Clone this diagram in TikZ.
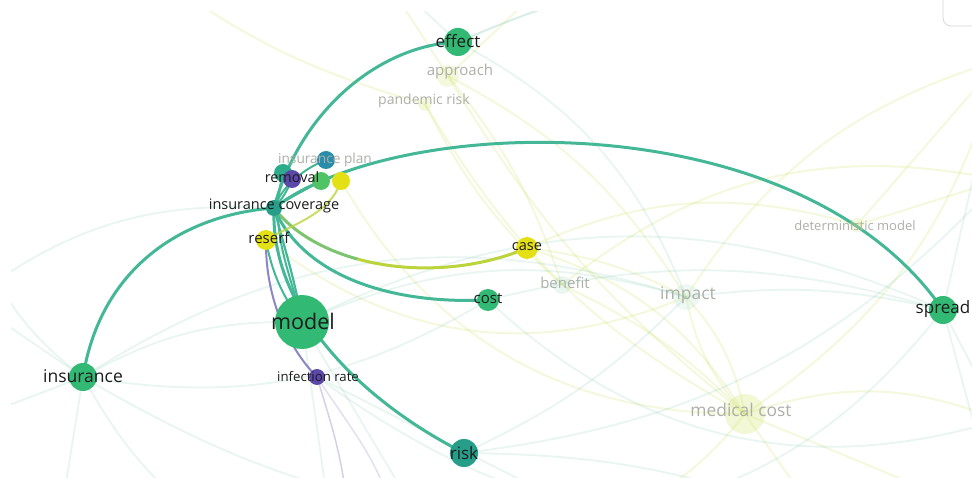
\documentclass[tikz,border=0pt]{standalone}
\usepackage{fontspec}
\setmainfont{Open Sans}
\pgfdeclarelayer{bg}
\pgfdeclarelayer{edges}
\pgfsetlayers{bg,edges,main}
\definecolor{cgreen}{RGB}{50,185,115}
\definecolor{cteal}{RGB}{38,158,138}
\definecolor{cteal2}{RGB}{45,172,140}
\definecolor{cblue}{RGB}{40,140,170}
\definecolor{cpurple}{RGB}{92,72,170}
\definecolor{cyellow}{RGB}{228,224,22}
\definecolor{cgreen2}{RGB}{80,196,100}
\definecolor{edgec}{RGB}{68,184,150}
\definecolor{edgey}{RGB}{188,212,60}
\definecolor{edgem}{RGB}{125,196,110}
\definecolor{edgep}{RGB}{112,104,182}
\definecolor{labc}{RGB}{28,28,28}
\definecolor{fadec}{RGB}{172,176,168}
\definecolor{fgreen}{RGB}{120,200,170}
\definecolor{fyel}{RGB}{215,230,120}
\definecolor{frame}{RGB}{215,215,215}
\tikzset{
  kw/.style={circle, inner sep=0pt, minimum size=#1},
  lab/.style={inner sep=0pt, text=labc, font=\fontsize{#1}{#1}\selectfont},
  flab/.style={inner sep=0pt, text=fadec, font=\fontsize{#1}{#1}\selectfont},
  sedge/.style={draw=edgec, line width=3pt},
  fe/.style={draw=fgreen, line width=1.8pt, opacity=0.17},
  fy/.style={draw=fyel, line width=2pt, opacity=0.25},
}
\begin{document}
\begin{tikzpicture}[x=1pt,y=-1pt]
\useasboundingbox (0,0) rectangle (972,478);
\begin{pgfonlayer}{bg}
\fill[white] (0,0) rectangle (972,478);
\end{pgfonlayer}
% top-right frame fragment
\draw[frame, line width=0.8pt, rounded corners=8pt] (943,-12) rectangle (1000,26);

% off-canvas coordinates
\coordinate (oa) at (1000,60);
\coordinate (ob) at (1000,180);
\coordinate (oc) at (1000,420);
\coordinate (od) at (1000,520);
\coordinate (oe) at (820,520);
\coordinate (of) at (600,520);
\coordinate (og) at (420,520);
\coordinate (oh) at (330,520);
\coordinate (oi) at (200,520);
\coordinate (oj) at (60,520);
\coordinate (ok) at (-30,300);
\coordinate (ol) at (-30,420);
\coordinate (om) at (-30,200);
\coordinate (on) at (150,-30);
\coordinate (oo) at (380,-30);
\coordinate (op) at (560,-30);
\coordinate (oq) at (760,-30);
\coordinate (or) at (950,-30);
\coordinate (pb1) at (345,490);
\coordinate (pb2) at (385,490);

% faded keyword blobs
\node[kw=22, fill=fyel, opacity=0.25] (approachn) at (448,76) {};
\node[kw=14, fill=fyel, opacity=0.25] (pandemicn) at (425,104) {};
\node[kw=18, fill=fgreen, opacity=0.15] (benefitn) at (562,285) {};
\node[kw=26, fill=fgreen, opacity=0.12] (impactn) at (686,297) {};
\node[kw=40, fill=fyel, opacity=0.3] (medcostn) at (745,414) {};
\node[kw=14, fill=fyel, opacity=0.25] (determn) at (857,225) {};

% keyword circles
\node[kw=28, fill=cgreen] (effect) at (458,42) {};
\node[kw=18, fill=cblue] (ip) at (326,160) {};
\node[kw=18, fill=cteal2] (rem2) at (283,173) {};
\node[kw=18, fill=cpurple] (removal) at (292,179) {};
\node[kw=18, fill=cgreen2] (gnode) at (321,181) {};
\node[kw=18, fill=cyellow] (ynode) at (341,181) {};
\node[kw=16, fill=cteal] (ic) at (274,208) {};
\node[kw=20, fill=cyellow] (reserf) at (266,240) {};
\node[kw=22, fill=cyellow] (case) at (527,248) {};
\node[kw=22, fill=cgreen] (cost) at (488,300) {};
\node[kw=54, fill=cgreen] (model) at (302,322) {};
\node[kw=28, fill=cgreen] (insurance) at (83,377) {};
\node[kw=16, fill=cpurple] (infrate) at (317,377) {};
\node[kw=28, fill=cteal] (risk) at (464,453) {};
\node[kw=28, fill=cgreen] (spread) at (943,310) {};

% labels
\node[flab=15] (approachl) at (460,72) {approach};
\node[flab=14] (pandemicl) at (424,101) {pandemic risk};
\node[flab=13.7] (ipl) at (325,160) {insurance plan};
\node[flab=15] (benefitl) at (565,283) {benefit};
\node[flab=17.5] (impactl) at (688,295) {impact};
\node[flab=17.4] (medcostl) at (741,410) {medical cost};
\node[flab=13] (determl) at (855,226) {deterministic model};
\node[lab=17] (effectl) at (458,41) {effect};
\node[lab=21.5] (modell) at (303,321) {model};
\node[lab=17.5] (insurancel) at (83,376) {insurance};
\node[lab=17] (spreadl) at (943,309) {spread};
\node[lab=17] (riskl) at (464,453) {risk};
\node[lab=15] (costl) at (488,299) {cost};
\node[lab=14.5] (casel) at (527,247) {case};
\node[lab=14.4] (removall) at (292,177) {removal};
\node[lab=14.5] (icl) at (274,206) {insurance coverage};
\node[lab=15] (reserfl) at (269,238) {reserf};
\node[lab=13.2] (infratel) at (318,377) {infection rate};

\begin{pgfonlayer}{edges}
\begin{scope}
\clip (11,12) rectangle (972,478);
% faint yellowish links
\draw[fy] (approachn.center) to[bend right=10] (medcostn.center);
\draw[fy] (approachn.center) to[bend left=15] (impactn.center);
\draw[fy] (pandemicn.center) to[bend right=15] (medcostn.center);
\draw[fy] (pandemicn.center) to[bend right=10] (benefitn.center);
\draw[fy] (benefitn.center) to[bend left=10] (medcostn.center);
\draw[fy] (impactn.center) to[bend left=15] (medcostn.center);
\draw[fy] (impactn.center) to[bend right=15] (medcostn.center);
\draw[fy] (case.center) to[bend left=20] (medcostn.center);
\draw[fy] (case.center) to[bend left=20] (determn.center);
\draw[fy] (medcostn.center) to[bend left=20] (oc);
\draw[fy] (medcostn.center) to (od);
\draw[fy] (medcostn.center) to (oe);
\draw[fy] (medcostn.center) to[bend left=15] (of);
\draw[fy] (approachn.center) to (oo);
\draw[fy] (approachn.center) to (op);
\draw[fy] (pandemicn.center) to[bend left=10] (on);
\draw[fy] (determn.center) to (oa);
\draw[fy] (determn.center) to (ob);
\draw[fy] (case.center) to[bend left=10] (impactn.center);
\draw[fy] (benefitn.center) to[bend left=25] (ob);
\draw[fy] (impactn.center) to[bend left=20] (oa);
\draw[fy] (ynode.center) to[bend right=30] (medcostn.center);
\draw[fy] (reserf.center) to[bend right=30] (impactn.center);
\draw[fy] (approachn.center) to[bend left=10] (benefitn.center);
\draw[fy] (medcostn.center) to[bend right=20] (oa);
% faint greenish links
\draw[fe] (insurance.center) to[bend left=20] (om);
\draw[fe] (insurance.center) to (ok);
\draw[fe] (insurance.center) to (ol);
\draw[fe] (insurance.center) to (oj);
\draw[fe] (insurance.center) to[bend left=15] (model.center);
\draw[fe] (insurance.center) to[bend right=20] (cost.center);
\draw[fe] (insurance.center) to[bend right=15] (of);
\draw[fe] (insurance.center) to[bend left=25] (impactn.center);
\draw[fe] (insurance.center) to[bend right=10] (oi);
\draw[fe] (model.center) to[bend left=20] (impactn.center);
\draw[fe] (model.center) to (og);
\draw[fe] (model.center) to (oh);
\draw[fe] (model.center) to[bend left=25] (spread.center);
\draw[fe] (spread.center) to (oc);
\draw[fe] (spread.center) to (od);
\draw[fe] (spread.center) to[bend left=20] (of);
\draw[fe] (spread.center) to[bend right=10] (impactn.center);
\draw[fe] (spread.center) to (oa);
\draw[fe] (risk.center) to[bend left=10] (oe);
\draw[fe] (risk.center) to[bend right=20] (ob);
\draw[fe] (risk.center) to[bend right=10] (impactn.center);
\draw[fe] (cost.center) to[bend right=30] (oc);
\draw[fe] (effect.center) to (oo);
\draw[fe] (effect.center) to[bend left=20] (impactn.center);
\draw[fe] (effect.center) to[bend left=10] (oq);
\draw[fe] (ic.center) to[bend right=20] (ok);
\draw[fe] (infrate.center) to[bend right=20] (oe);
\draw[fe] (infrate.center) to (of);
\draw[fe] (effect.center) to[bend left=15] (or);
\draw[fe] (cost.center) to[bend left=15] (spread.center);
\end{scope}
% infection rate faint purple links
\draw[draw=edgep, line width=1.5pt, opacity=0.3] (infrate.center) .. controls (330,420) and (340,450) .. (pb1);
\draw[draw=edgep, line width=1.5pt, opacity=0.2] (infrate.center) .. controls (345,420) and (370,450) .. (pb2);
% strong links
\draw[sedge] (ic.center) .. controls (300,110) and (380,45) .. (effect.center);
\draw[sedge] (ic.center) .. controls (400,112) and (800,102) .. (spread.center);
\draw[sedge] (insurance.center) .. controls (100,270) and (180,215) .. (ic.center);
\coordinate (cs) at (357.7,259.1);
\draw[sedge, draw=edgey] (cs) .. controls (410.7,273.7) and (474.8,270.2) .. (case.center);
\draw[sedge, draw=edgem] (ic.center) .. controls (291.8,231.6) and (322.3,249.4) .. (cs);
\draw[sedge] (ic.center) .. controls (300,270) and (380,305) .. (cost.center);
\draw[sedge] (ic.center) .. controls (270,310) and (360,400) .. (risk.center);
\draw[draw=edgep, line width=2pt, opacity=0.8] (reserf.center) .. controls (265,300) and (290,350) .. (infrate.center);
\draw[sedge, line width=2.2pt] (ic.center) .. controls (285,250) and (295,280) .. (model.center);
\draw[sedge, line width=2pt] (reserf.center) .. controls (272,275) and (285,300) .. (model.center);
\draw[sedge, line width=2pt] (rem2.center) .. controls (268,230) and (290,270) .. (model.center);
\draw[sedge, line width=2pt] (ip.center) .. controls (300,170) and (280,190) .. (ic.center);
\draw[sedge, line width=2pt] (gnode.center) .. controls (305,190) and (285,200) .. (ic.center);
\draw[sedge, line width=2pt] (removal.center) to[bend left=10] (ic.center);
\draw[draw=edgey, line width=2pt, opacity=0.8] (ynode.center) .. controls (330,215) and (290,225) .. (reserf.center);
\end{pgfonlayer}
\end{tikzpicture}
\end{document}
